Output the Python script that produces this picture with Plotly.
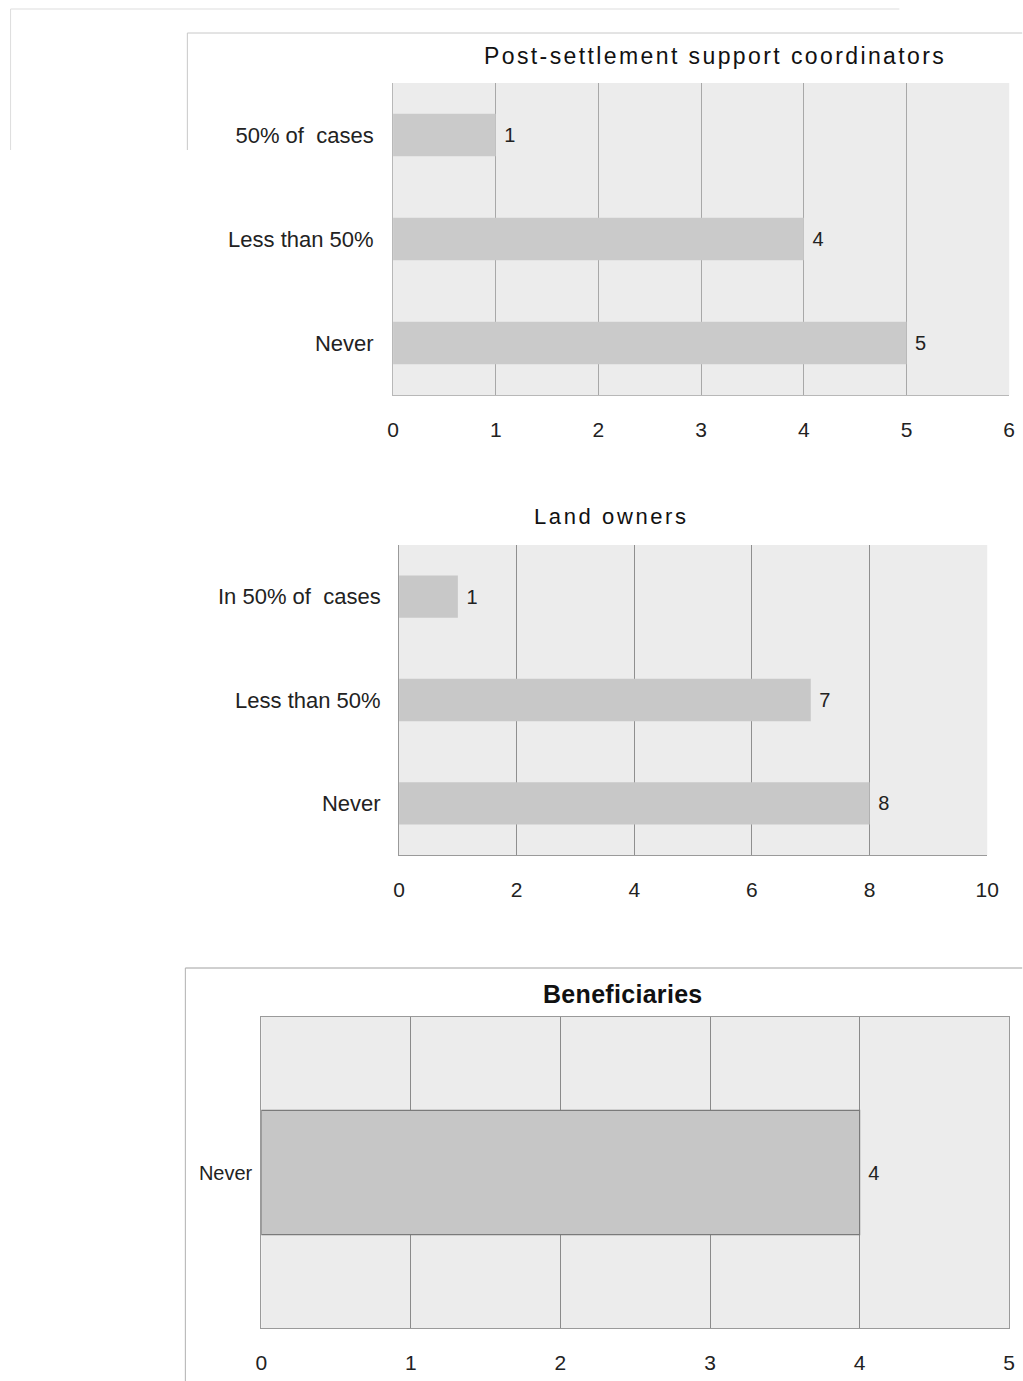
import plotly.graph_objects as go

# Survey responses: how often each group is involved
coord_cats = ["50% of  cases", "Less than 50%", "Never"]
coord_vals = [1, 4, 5]

owner_cats = ["In 50% of  cases", "Less than 50%", "Never"]
owner_vals = [1, 7, 8]

benef_cats = ["Never"]
benef_vals = [4]

coord_ticks = [0, 1, 2, 3, 4, 5, 6]
owner_ticks = [0, 2, 4, 6, 8, 10]
benef_ticks = [0, 1, 2, 3, 4, 5]

W, H = 1023, 1381
FONT = "Liberation Sans, Arial, sans-serif"
INK = "#222222"

# Horizontal placement calibration for the rendered page
X_OFF, X_SPAN = 5.4, 1006.4


def px_x(p):
    return (p - X_OFF) / X_SPAN


def px_y(p):
    return 1 - p / H


fig = go.Figure()

label_tpl = "\u00a0%{x}"

fig.add_trace(go.Bar(
    x=coord_vals, y=coord_cats, orientation="h", xaxis="x", yaxis="y",
    width=0.41, marker=dict(color="#cacaca", line=dict(width=0)),
    texttemplate=label_tpl, textposition="outside", cliponaxis=False,
    textfont=dict(size=20, color=INK, family=FONT), showlegend=False,
))
fig.add_trace(go.Bar(
    x=owner_vals, y=owner_cats, orientation="h", xaxis="x2", yaxis="y2",
    width=0.41, marker=dict(color="#c8c8c8", line=dict(width=0)),
    texttemplate=label_tpl, textposition="outside", cliponaxis=False,
    textfont=dict(size=20, color=INK, family=FONT), showlegend=False,
))
fig.add_trace(go.Bar(
    x=benef_vals, y=benef_cats, orientation="h", xaxis="x3", yaxis="y3",
    width=0.4, marker=dict(color="#c6c6c6", line=dict(width=1.2, color="#7a7a7a")),
    texttemplate=label_tpl, textposition="outside", cliponaxis=False,
    textfont=dict(size=20, color=INK, family=FONT), showlegend=False,
))

tickfont = dict(size=21, color=INK, family=FONT)
catfont = dict(size=22, color=INK, family=FONT)

layout = dict(
    width=W, height=H,
    margin=dict(l=0, r=0, t=0, b=0),
    paper_bgcolor="white",
    plot_bgcolor="#ececec",
    font=dict(family=FONT, color=INK),
    xaxis=dict(
        domain=[px_x(393), px_x(1010)], anchor="y", range=[0, 6],
        tickvals=coord_ticks, tickfont=tickfont, ticklabelstandoff=16,
        showgrid=True, gridcolor="#a8a8a8", gridwidth=1,
        showline=True, linecolor="#b8b8b8", zeroline=False, ticks="",
    ),
    yaxis=dict(
        domain=[px_y(395), px_y(83)], anchor="x",
        categoryorder="array", categoryarray=coord_cats[::-1],
        tickfont=catfont, ticklabelstandoff=14,
        showline=True, linecolor="#b8b8b8", showgrid=False, ticks="",
    ),
    xaxis2=dict(
        domain=[px_x(399), px_x(988)], anchor="y2", range=[0, 10],
        tickvals=owner_ticks, tickfont=tickfont, ticklabelstandoff=16,
        showgrid=True, gridcolor="#8f8f8f", gridwidth=1,
        showline=True, linecolor="#9a9a9a", zeroline=False, ticks="",
    ),
    yaxis2=dict(
        domain=[px_y(855), px_y(545)], anchor="x2",
        categoryorder="array", categoryarray=owner_cats[::-1],
        tickfont=catfont, ticklabelstandoff=13,
        showline=True, linecolor="#9a9a9a", showgrid=False, ticks="",
    ),
    xaxis3=dict(
        domain=[px_x(261), px_x(1010)], anchor="y3", range=[0, 5],
        tickvals=benef_ticks, tickfont=tickfont, ticklabelstandoff=16,
        showgrid=True, gridcolor="#8a8a8a", gridwidth=1,
        showline=True, linecolor="#9a9a9a", mirror=True, zeroline=False, ticks="",
    ),
    yaxis3=dict(
        domain=[px_y(1328), px_y(1017)], anchor="x3",
        tickfont=dict(size=20, color=INK, family=FONT), ticklabelstandoff=4,
        showline=True, linecolor="#9a9a9a", mirror=True, showgrid=False, ticks="",
    ),
)
fig.update_layout(**layout)

# Chart titles (letter-spaced like the original report headings)
titles = [
    ("Post-settlement support coordinators", 715, 56, False, 23, 2.4),
    ("Land owners", 612, 516, False, 22, 2.6),
    ("Beneficiaries", 623, 994, True, 25, 0.3),
]
for txt, cx, cy, bold, size, spacing in titles:
    body = f"<span style='letter-spacing:{spacing}px'>{txt}</span>"
    fig.add_annotation(
        x=px_x(cx), y=px_y(cy), xref="paper", yref="paper",
        text=f"<b>{body}</b>" if bold else body, showarrow=False,
        xanchor="center", yanchor="middle",
        font=dict(size=size, color="#111111", family=FONT),
    )

# Chart frames
frame = dict(color="#c8c8c8", width=1)
fig.add_shape(type="line", xref="paper", yref="paper",
              x0=px_x(187), x1=px_x(1023), y0=px_y(33), y1=px_y(33), line=frame)
fig.add_shape(type="line", xref="paper", yref="paper",
              x0=px_x(187), x1=px_x(187), y0=px_y(33), y1=px_y(150), line=frame)
fig.add_shape(type="line", xref="paper", yref="paper",
              x0=px_x(10), x1=px_x(900), y0=px_y(9), y1=px_y(9),
              line=dict(color="#dddddd", width=1))
fig.add_shape(type="line", xref="paper", yref="paper",
              x0=px_x(10), x1=px_x(10), y0=px_y(9), y1=px_y(150),
              line=dict(color="#dddddd", width=1))
fig.add_shape(type="line", xref="paper", yref="paper",
              x0=px_x(185), x1=px_x(1023), y0=px_y(968), y1=px_y(968),
              line=dict(color="#a0a0a0", width=1))
fig.add_shape(type="line", xref="paper", yref="paper",
              x0=px_x(185), x1=px_x(185), y0=px_y(968), y1=0,
              line=dict(color="#b0b0b0", width=1))

fig.write_html("out.html")
